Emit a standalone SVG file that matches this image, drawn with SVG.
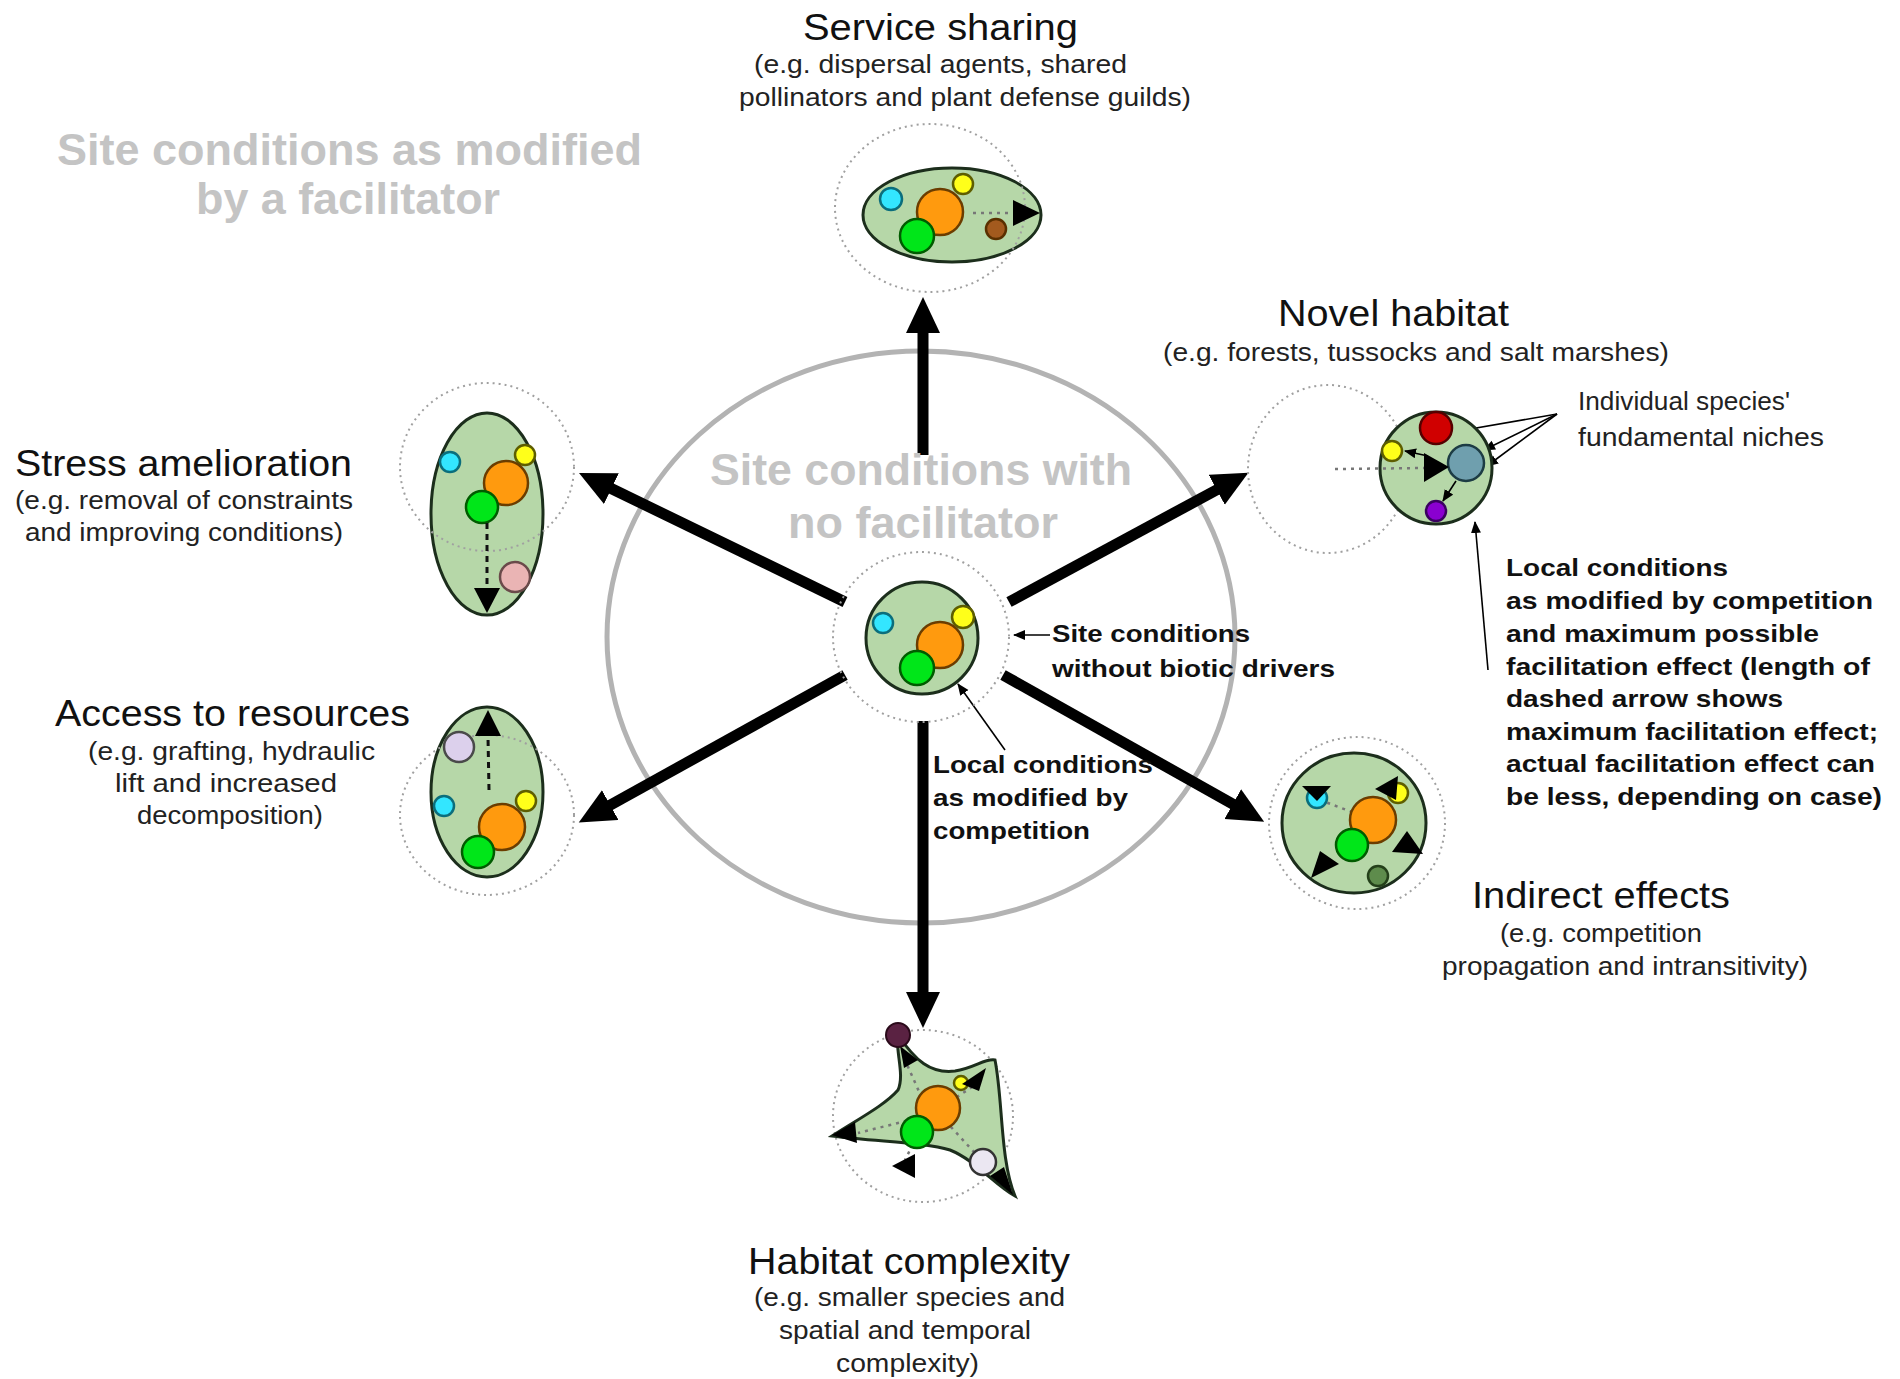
<svg xmlns="http://www.w3.org/2000/svg" width="1900" height="1379" viewBox="0 0 1900 1379">
<style>
.t{font-family:"Liberation Sans",Arial,sans-serif;fill:#111}
.ti{font-size:36px}
.sub{font-size:25px;fill:#222}
.ann{font-size:24px;font-weight:bold}
.big{font-size:44px;font-weight:bold;fill:#c4c4c4}
.dot{fill:none;stroke:#a0a0a0;stroke-width:2;stroke-dasharray:2 4}
.hab{fill:#b6d7a8;stroke:#1c2e1c;stroke-width:3}
.dash{fill:none;stroke:#111;stroke-width:3;stroke-dasharray:6 5}
.fdash{fill:none;stroke:#777;stroke-width:2.5;stroke-dasharray:3 5}
.tri{fill:#000}
.cy{fill:#33e6ff;stroke:#0b6e7c;stroke-width:2.5}
.ye{fill:#ffff1a;stroke:#5e5e00;stroke-width:2.5}
.or{fill:#ff9a0e;stroke:#6b3d00;stroke-width:2.5}
.gr{fill:#00e619;stroke:#005c00;stroke-width:2.5}
.thick{stroke:#000;stroke-width:11;fill:none}
.thin{stroke:#000;stroke-width:1.6;fill:none}
</style>
<defs>
<marker id="big" markerUnits="userSpaceOnUse" markerWidth="40" markerHeight="36" refX="6" refY="17" orient="auto" viewBox="0 0 40 36">
<path d="M0,0 L36,17 L0,34 z" fill="#000"/>
</marker>
<marker id="sm" markerUnits="userSpaceOnUse" markerWidth="14" markerHeight="12" refX="11" refY="5" orient="auto" viewBox="0 0 14 12">
<path d="M0,0 L12,5 L0,10 z" fill="#000"/>
</marker>
</defs>
<rect width="1900" height="1379" fill="#fff"/>

<g id="background">
<ellipse cx="921" cy="637" rx="314" ry="286" fill="none" stroke="#b3b3b3" stroke-width="5"/>
</g>

<g id="connectors">
<line class="thick" x1="923" y1="455" x2="923" y2="327" marker-end="url(#big)"/>
<line class="thick" x1="923" y1="721" x2="923" y2="998" marker-end="url(#big)"/>
<line class="thick" x1="845" y1="602" x2="606" y2="486" marker-end="url(#big)"/>
<line class="thick" x1="1009" y1="602" x2="1222" y2="487" marker-end="url(#big)"/>
<line class="thick" x1="845" y1="675" x2="605" y2="808" marker-end="url(#big)"/>
<line class="thick" x1="1003" y1="675" x2="1238" y2="807" marker-end="url(#big)"/>
<line class="thin" x1="1050" y1="635" x2="1014" y2="635" marker-end="url(#sm)"/>
<line class="thin" x1="1005" y1="750" x2="958" y2="684" marker-end="url(#sm)"/>
<line class="thin" x1="1488" y1="670" x2="1475" y2="522" marker-end="url(#sm)"/>
<line class="thin" x1="1557" y1="414" x2="1453" y2="432" marker-end="url(#sm)"/>
<line class="thin" x1="1557" y1="414" x2="1484" y2="450" marker-end="url(#sm)"/>
<line class="thin" x1="1557" y1="414" x2="1487" y2="466" marker-end="url(#sm)"/>
</g>

<g id="n-center">
<ellipse class="dot" cx="921" cy="637" rx="88" ry="85"/>
<circle class="hab" cx="922" cy="638" r="56"/>
<circle class="cy" cx="883" cy="623" r="10"/>
<circle class="ye" cx="963" cy="617" r="11"/>
<circle class="or" cx="940" cy="645" r="23"/>
<circle class="gr" cx="917" cy="668" r="17"/>
</g>

<g id="n-service">
<ellipse class="hab" cx="952" cy="215" rx="89" ry="47"/>
<ellipse class="dot" cx="930" cy="208" rx="95" ry="84"/>
<circle class="cy" cx="891" cy="199" r="11"/>
<circle class="ye" cx="963" cy="184" r="10"/>
<circle class="or" cx="940" cy="212" r="23"/>
<circle class="gr" cx="917" cy="236" r="17"/>
<circle cx="996" cy="229" r="10" fill="#a35a1e" stroke="#5a3000" stroke-width="2.5"/>
<line class="fdash" x1="973" y1="213" x2="1014" y2="213"/>
<polygon class="tri" points="1013,200 1040,213 1013,226"/>
</g>

<g id="n-stress">
<ellipse class="hab" cx="487" cy="514" rx="56" ry="101"/>
<ellipse class="dot" cx="487" cy="467" rx="87" ry="84"/>
<circle class="cy" cx="450" cy="462" r="10"/>
<circle class="ye" cx="525" cy="455" r="10"/>
<circle class="or" cx="506" cy="483" r="22"/>
<circle class="gr" cx="482" cy="507" r="16"/>
<circle cx="515" cy="577" r="15" fill="#eab4b4" stroke="#6a4a4a" stroke-width="2.5"/>
<line class="dash" x1="487" y1="523" x2="487" y2="590"/>
<polygon class="tri" points="474,588 500,588 487,613"/>
</g>

<g id="n-access">
<ellipse class="hab" cx="487" cy="792" rx="56" ry="85"/>
<ellipse class="dot" cx="487" cy="815" rx="87" ry="80"/>
<circle cx="459" cy="747" r="15" fill="#dcd0ec" stroke="#4a4a4a" stroke-width="2.5"/>
<circle class="cy" cx="444" cy="806" r="10"/>
<circle class="ye" cx="526" cy="801" r="10"/>
<circle class="or" cx="502" cy="827" r="23"/>
<circle class="gr" cx="478" cy="852" r="16"/>
<line class="dash" x1="489" y1="790" x2="488" y2="737" stroke-dasharray="3 6"/>
<polygon class="tri" points="475,736 501,736 488,710"/>
</g>

<g id="n-novel">
<ellipse class="dot" cx="1328" cy="469" rx="80" ry="84"/>
<circle class="hab" cx="1436" cy="468" r="56"/>
<line class="fdash" x1="1335" y1="469" x2="1425" y2="468"/>
<circle cx="1436" cy="428" r="16" fill="#d00000" stroke="#500" stroke-width="2.5"/>
<circle class="ye" cx="1392" cy="451" r="10"/>
<circle cx="1466" cy="463" r="18" fill="#6f9fae" stroke="#1d3c44" stroke-width="2.5"/>
<circle cx="1436" cy="511" r="10" fill="#8a00d0" stroke="#3a0060" stroke-width="2.5"/>
<polygon class="tri" points="1424,453 1424,482 1449,467"/>
<line class="thin" x1="1428" y1="456" x2="1405" y2="451" marker-end="url(#sm)"/>
<line class="thin" x1="1456" y1="481" x2="1443" y2="501" marker-end="url(#sm)"/>
</g>

<g id="n-indirect">
<ellipse class="dot" cx="1357" cy="823" rx="88" ry="86"/>
<ellipse class="hab" cx="1354" cy="823" rx="72" ry="70"/>
<line class="fdash" x1="1360" y1="815" x2="1320" y2="800" stroke="#999"/>
<circle class="cy" cx="1317" cy="798" r="10"/>
<polygon class="tri" points="1302,786 1331,786 1317,801"/>
<circle class="ye" cx="1398" cy="793" r="10"/>
<polygon class="tri" points="1375,789 1398,776 1396,800"/>
<circle class="or" cx="1373" cy="820" r="23"/>
<circle class="gr" cx="1352" cy="845" r="16"/>
<circle cx="1378" cy="876" r="10" fill="#5e8c4c" stroke="#24401a" stroke-width="2.5"/>
<polygon class="tri" points="1392,852 1407,831 1423,854"/>
<polygon class="tri" points="1311,878 1320,851 1339,864"/>
</g>

<g id="n-habitat">
<ellipse class="dot" cx="923" cy="1116" rx="90" ry="86"/>
<path class="hab" d="M898,1035 C915,1060 930,1074 955,1071 C975,1068 985,1058 995,1060 C1003,1100 1000,1160 1015,1196 C995,1185 975,1160 950,1150 C925,1142 880,1142 832,1136 C860,1118 885,1105 898,1090 C905,1075 895,1050 898,1035 Z"/>
<g class="fdash" stroke="#999" stroke-width="2">
<line x1="930" y1="1115" x2="858" y2="1133"/>
<line x1="930" y1="1115" x2="975" y2="1085"/>
<line x1="920" y1="1130" x2="905" y2="1160"/>
<line x1="940" y1="1115" x2="995" y2="1175"/>
<line x1="925" y1="1105" x2="905" y2="1060"/>
</g>
<circle class="or" cx="938" cy="1108" r="22"/>
<circle class="gr" cx="917" cy="1132" r="16"/>
<circle class="ye" cx="961" cy="1083" r="7"/>
<circle cx="983" cy="1162" r="13" fill="#ebe7f2" stroke="#333" stroke-width="2.5"/>
<polygon class="tri" points="900,1046 918,1060 904,1068"/>
<polygon class="tri" points="962,1084 986,1068 979,1091"/>
<polygon class="tri" points="832,1135 855,1122 857,1143"/>
<polygon class="tri" points="892,1166 915,1154 915,1178"/>
<polygon class="tri" points="990,1176 1013,1195 1004,1167"/>
<circle cx="898" cy="1035" r="12" fill="#5a2242" stroke="#2a0a1a" stroke-width="2"/>
</g>

<g id="labels">
<text class="t big" x="57" y="165" textLength="585" lengthAdjust="spacingAndGlyphs">Site conditions as modified</text>
<text class="t big" x="196" y="214" textLength="304" lengthAdjust="spacingAndGlyphs">by a facilitator</text>
<text class="t big" x="710" y="485" textLength="422" lengthAdjust="spacingAndGlyphs">Site conditions with</text>
<text class="t big" x="788" y="538" textLength="270" lengthAdjust="spacingAndGlyphs">no facilitator</text>

<text class="t ti" x="803" y="40" textLength="275" lengthAdjust="spacingAndGlyphs">Service sharing</text>
<text class="t sub" x="754" y="73" textLength="373" lengthAdjust="spacingAndGlyphs">(e.g. dispersal agents, shared</text>
<text class="t sub" x="739" y="106" textLength="452" lengthAdjust="spacingAndGlyphs">pollinators and plant defense guilds)</text>

<text class="t ti" x="15" y="476" textLength="337" lengthAdjust="spacingAndGlyphs">Stress amelioration</text>
<text class="t sub" x="15" y="509" textLength="338" lengthAdjust="spacingAndGlyphs">(e.g. removal of constraints</text>
<text class="t sub" x="25" y="541" textLength="318" lengthAdjust="spacingAndGlyphs">and improving conditions)</text>

<text class="t ti" x="55" y="726" textLength="355" lengthAdjust="spacingAndGlyphs">Access to resources</text>
<text class="t sub" x="88" y="760" textLength="287" lengthAdjust="spacingAndGlyphs">(e.g. grafting, hydraulic</text>
<text class="t sub" x="115" y="792" textLength="222" lengthAdjust="spacingAndGlyphs">lift and increased</text>
<text class="t sub" x="137" y="824" textLength="186" lengthAdjust="spacingAndGlyphs">decomposition)</text>

<text class="t ti" x="1278" y="326" textLength="231" lengthAdjust="spacingAndGlyphs">Novel habitat</text>
<text class="t sub" x="1163" y="361" textLength="506" lengthAdjust="spacingAndGlyphs">(e.g. forests, tussocks and salt marshes)</text>
<text class="t sub" x="1578" y="410" textLength="212" lengthAdjust="spacingAndGlyphs">Individual species'</text>
<text class="t sub" x="1578" y="446" textLength="246" lengthAdjust="spacingAndGlyphs">fundamental niches</text>

<text class="t ti" x="1472" y="908" textLength="258" lengthAdjust="spacingAndGlyphs">Indirect effects</text>
<text class="t sub" x="1500" y="942" textLength="202" lengthAdjust="spacingAndGlyphs">(e.g. competition</text>
<text class="t sub" x="1442" y="975" textLength="366" lengthAdjust="spacingAndGlyphs">propagation and intransitivity)</text>

<text class="t ti" x="748" y="1274" textLength="322" lengthAdjust="spacingAndGlyphs">Habitat complexity</text>
<text class="t sub" x="754" y="1306" textLength="311" lengthAdjust="spacingAndGlyphs">(e.g. smaller species and</text>
<text class="t sub" x="779" y="1339" textLength="252" lengthAdjust="spacingAndGlyphs">spatial and temporal</text>
<text class="t sub" x="836" y="1372" textLength="143" lengthAdjust="spacingAndGlyphs">complexity)</text>

<text class="t ann" x="1052" y="642" textLength="198" lengthAdjust="spacingAndGlyphs">Site conditions</text>
<text class="t ann" x="1052" y="677" textLength="283" lengthAdjust="spacingAndGlyphs">without biotic drivers</text>
<text class="t ann" x="933" y="773" textLength="220" lengthAdjust="spacingAndGlyphs">Local conditions</text>
<text class="t ann" x="933" y="806" textLength="195" lengthAdjust="spacingAndGlyphs">as modified by</text>
<text class="t ann" x="933" y="839" textLength="157" lengthAdjust="spacingAndGlyphs">competition</text>

<text class="t ann" x="1506" y="576" textLength="222" lengthAdjust="spacingAndGlyphs">Local conditions</text>
<text class="t ann" x="1506" y="609" textLength="367" lengthAdjust="spacingAndGlyphs">as modified by competition</text>
<text class="t ann" x="1506" y="642" textLength="313" lengthAdjust="spacingAndGlyphs">and maximum possible</text>
<text class="t ann" x="1506" y="675" textLength="364" lengthAdjust="spacingAndGlyphs">facilitation effect (length of</text>
<text class="t ann" x="1506" y="707" textLength="277" lengthAdjust="spacingAndGlyphs">dashed arrow shows</text>
<text class="t ann" x="1506" y="740" textLength="372" lengthAdjust="spacingAndGlyphs">maximum facilitation effect;</text>
<text class="t ann" x="1506" y="772" textLength="369" lengthAdjust="spacingAndGlyphs">actual facilitation effect can</text>
<text class="t ann" x="1506" y="805" textLength="376" lengthAdjust="spacingAndGlyphs">be less, depending on case)</text>
</g>
</svg>
